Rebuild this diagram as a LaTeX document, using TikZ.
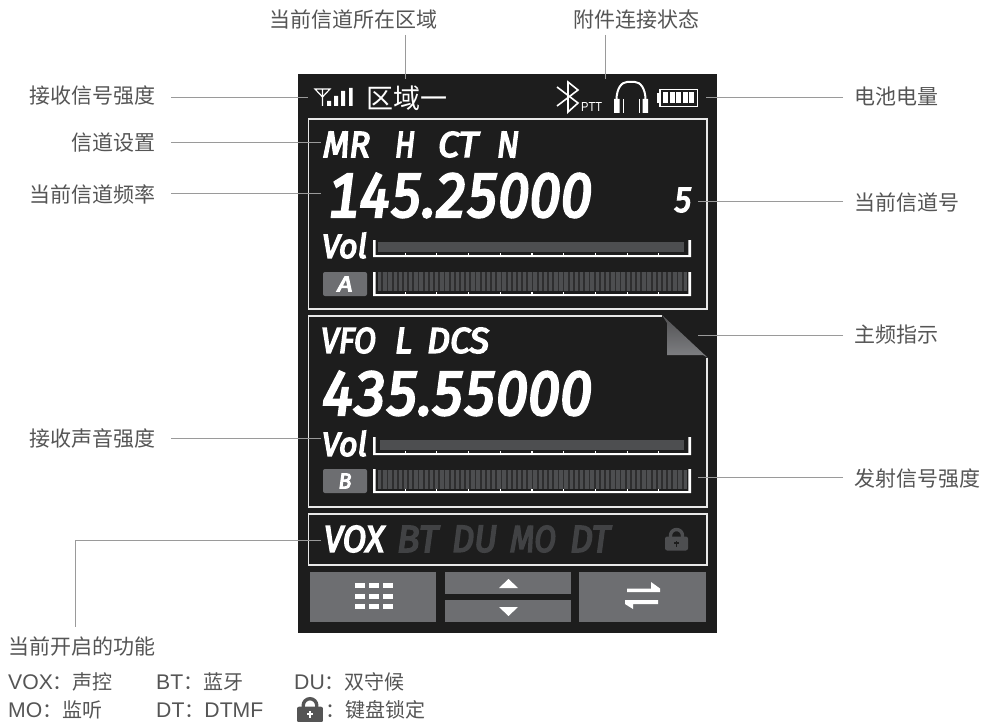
\documentclass[tikz,border=0pt]{standalone}
\usepackage{fontspec}
\usepackage{graphicx}
\setmainfont{Liberation Sans}
\newfontfamily\cjk{Noto Sans CJK SC}
\newfontfamily\latf[Scale=1.06]{Liberation Sans}
\newfontfamily\dinfont[Numbers={Monospaced,Lining},ItalicFeatures={FakeBold=4.5}]{Fira Sans}
\definecolor{screen}{HTML}{1D1D1D}
\definecolor{frameline}{HTML}{E8E8E8}
\definecolor{leader}{HTML}{9A9A9A}
\definecolor{labelink}{HTML}{555555}
\definecolor{btn}{HTML}{6D6E71}
\definecolor{barfill}{HTML}{4D4E50}
\definecolor{bargap}{HTML}{2E2E2F}
\definecolor{dimtext}{HTML}{414244}
\definecolor{foldtop}{HTML}{505052}
\definecolor{foldbottom}{HTML}{808184}
\tikzset{
  lab/.style={font=\cjk\fontsize{21}{24}\selectfont,text=labelink,inner sep=0pt},
  labr/.style={lab,anchor=east},
  labl/.style={lab,anchor=west},
  leg/.style={font=\cjk\fontsize{20}{22}\selectfont,text=labelink,inner sep=0pt,anchor=west},
  lead/.style={draw=leader,line width=1pt},
  frameln/.style={draw=frameline,line width=1.4pt},
  tick/.style={draw=white,line width=1.1pt},
  dintext/.style={inner sep=0pt,text=white},
  btnface/.style={fill=btn},
  whitefill/.style={fill=white}
}
\newcommand\din[7][white]{\node[dintext,text=#1] (#2) at ({(#3+#4)/2},{(#5+#6)/2}) {\resizebox{\dimexpr#4pt-#3pt\relax}{\dimexpr#6pt-#5pt\relax}{\dinfont\itshape #7}};}
\newcommand\meter[2]{%
  \fill[white] (373,#1) -- (375.6,#1) -- (375.6,#2-1.8) -- (688.4,#2-1.8) -- (688.4,#1) -- (691,#1) -- (691,#2) -- (373,#2) -- cycle;
  \foreach \i in {1,...,9} \draw[tick] ({373.5+31.7*\i},#2-1) -- ++(0,-3);
}
\newcommand\stripes[2]{%
  \fill[bargap] (378,#1) rectangle ++(309,#2);
  \foreach \i in {0,...,59} \fill[barfill] ({378+5.18*\i},#1) rectangle ++(3.4,#2);}
\newcommand\lockat[5]{%
  \begin{scope}[shift={(#1,#2)},scale=#3]
    \draw[#4,line width=3.4pt] (-6,-2) -- (-6,-4) arc[start angle=180,end angle=360,radius=6] -- (6,-2);
    \fill[#4,rounded corners=2.2pt] (-11.5,-3) rectangle (11.5,11);
    \fill[#5] (-.7,1) rectangle (.7,7);
    \fill[#5] (-2.4,2.6) rectangle (2.4,4);
  \end{scope}}
\newcommand\lat[1]{{\latf #1}}
\begin{document}
\begin{tikzpicture}[x=1pt,y=-1pt]
\useasboundingbox (0,0) rectangle (982,722);
\fill[white] (0,0) rectangle (982,722);
\fill[screen] (298,74) rectangle (717,633);

% panels
\draw[frameln] (308.5,119) rectangle (707,309);
\draw[frameln] (662,316) -- (308.5,316) -- (308.5,507) -- (707,507) -- (707,358);
\shade[top color=foldtop,bottom color=foldbottom] (662,315) -- (708,358) -- (703,355) -- (667,355) -- (667,323) -- cycle;
\draw[frameln] (308.5,514) rectangle (707,565);

% status row
\draw[white,line width=1.2pt] (315,89) -- (330,89) -- (322.5,97) -- cycle (322.5,89) -- (322.5,106);
\fill[white] (327,101) rectangle (331,106) (334,96) rectangle (338,106) (341,91) rectangle (345,106) (349,88) rectangle (352.5,106);
\node[dintext,font=\cjk\fontsize{27}{28}\selectfont,anchor=west] (zone) at (366,98) {区域一};
\draw[white,line width=1.6pt,line join=miter] (557,87) -- (578,103) -- (568,112) -- (568,82) -- (578,90) -- (557,106);
\node[dintext,anchor=west,font=\fontsize{11}{12}\selectfont] (ptt) at (581,107.5) {\resizebox{21pt}{9pt}{PTT}};
\draw[white,line width=2pt] (616.5,100) .. controls (616.5,88) and (622,82) .. (627,82) -- (635,82) .. controls (640,82) and (645.5,88) .. (645.5,100);
\fill[white] (614,99) rectangle (619.5,113) (642.5,99) rectangle (648,113);
\draw[white,line width=.9pt] (623,99) -- (623,113) (639,99) -- (639,113);
\draw[white,line width=1.3pt] (660,89.7) rectangle (697.5,106.3);
\fill[white] (657,93) rectangle (659.5,103);
\foreach \i in {0,...,4} \fill[white] ({663+6.6*\i},92.5) rectangle ++(5,11);

% channel A
\din{mrA}{323}{370}{132}{157}{MR}
\din{hA}{395}{415}{132}{157}{H}
\din{ctA}{438}{478}{132}{157}{CT}
\din{nA}{497}{519}{132}{157}{N}
\din{freqA}{328}{592}{174}{217}{145.25000}
\din{chnum}{674}{692}{188}{212}{5}
\din{volA}{322}{367}{233}{258}{Vol}
\fill[barfill] (378,242) rectangle (684,252);
\meter{240}{257}
\stripes{272}{19}
\meter{272}{296}
\node[fill=btn,rounded corners=2pt,minimum width=44pt,minimum height=24pt,inner sep=0pt] (tagA) at (345,284) {\resizebox{15pt}{15pt}{\color{white}\dinfont\itshape A}};

% channel B
\din{vfo}{321}{376}{328}{353}{VFO}
\din{lB}{395}{412}{328}{353}{L}
\din{dcs}{427}{489}{328}{353}{DCS}
\din{freqB}{322}{592}{372}{415}{435.55000}
\din{volB}{322}{367}{431}{456}{Vol}
\fill[barfill] (380,440) rectangle (684,450);
\meter{437}{455}
\stripes{470}{19}
\meter{469}{493}
\node[fill=btn,rounded corners=2pt,minimum width=44pt,minimum height=24pt,inner sep=0pt] (tagB) at (345,481) {\resizebox{13pt}{15pt}{\color{white}\dinfont\itshape B}};

% functions
\din{vox}{324}{384}{526}{552}{VOX}
\din[dimtext]{bt}{397}{438}{526}{552}{BT}
\din[dimtext]{du}{452}{497}{526}{552}{DU}
\din[dimtext]{mo}{510}{556}{526}{552}{MO}
\din[dimtext]{dt}{570}{610}{526}{552}{DT}
\lockat{676.5}{539.5}{1}{barfill}{screen}

% buttons
\fill[btnface] (310,572) rectangle (436,622);
\fill[btnface] (445,572) rectangle (571,593.5);
\fill[btnface] (445,600) rectangle (571,622);
\fill[btnface] (579,572) rectangle (706,622);
\foreach \gx in {355,369,383} \foreach \gy in {583,593.5,604} \fill[whitefill] (\gx,\gy) rectangle ++(9.5,5);
\fill[whitefill] (508.5,579) -- (518,588) -- (499,588) -- cycle;
\fill[whitefill] (499,607) -- (518,607) -- (508.5,616) -- cycle;
\fill[whitefill] (627,588.5) -- (651,588.5) -- (651,582) -- (660,588.5) -- (660,592) -- (627,592) -- cycle;
\fill[whitefill] (625,600) -- (658,600) -- (658,604) -- (633,604) -- (633,609) -- (625,604) -- cycle;

% labels
\node[labr] (l1) at (156,96) {接收信号强度};
\node[labr] (l2) at (156,143) {信道设置};
\node[labr] (l3) at (156,194) {当前信道频率};
\node[labr] (l4) at (156,439) {接收声音强度};
\node[lab] (t1) at (353.5,20) {当前信道所在区域};
\node[lab] (t2) at (636,20) {附件连接状态};
\node[labl] (r1) at (854,96) {电池电量};
\node[labl] (r2) at (854,202) {当前信道号};
\node[labl] (r3) at (854,335) {主频指示};
\node[labl] (r4) at (854,479) {发射信号强度};
\node[labl] (f0) at (8,647) {当前开启的功能};
\node[leg] (f1) at (8,682) {\lat{VOX}：声控};
\node[leg] (f2) at (156,682) {\lat{BT}：蓝牙};
\node[leg] (f3) at (294,682) {\lat{DU}：双守候};
\node[leg] (f4) at (8,710) {\lat{MO}：监听};
\node[leg] (f5) at (156,710) {\lat{DT}：\lat{DTMF}};
\lockat{310}{710}{1.13}{labelink}{white}
\node[leg] (f6) at (325,710) {：键盘锁定};

% connectors
\coordinate (c1a) at (171,97.5); \coordinate (c1b) at (308,97.5);
\coordinate (c2a) at (171,143); \coordinate (c2b) at (321,143);
\coordinate (c3a) at (171,193.5); \coordinate (c3b) at (321,193.5);
\coordinate (c4a) at (171,438); \coordinate (c4b) at (321,438);
\coordinate (c5a) at (405,35); \coordinate (c5b) at (405,79);
\coordinate (c6a) at (605,35); \coordinate (c6b) at (605,79);
\coordinate (c7a) at (843,97.5); \coordinate (c7b) at (706,97.5);
\coordinate (c8a) at (843,202); \coordinate (c8b) at (698,202);
\coordinate (c9a) at (843,335); \coordinate (c9b) at (698,335);
\coordinate (c10a) at (843,477); \coordinate (c10b) at (698,477);
\coordinate (c11a) at (321,540); \coordinate (c11b) at (75,627);
\foreach \n in {1,...,10} \draw[lead] (c\n a) -- (c\n b);
\draw[lead] (c11a) -| (c11b);
\end{tikzpicture}
\end{document}
